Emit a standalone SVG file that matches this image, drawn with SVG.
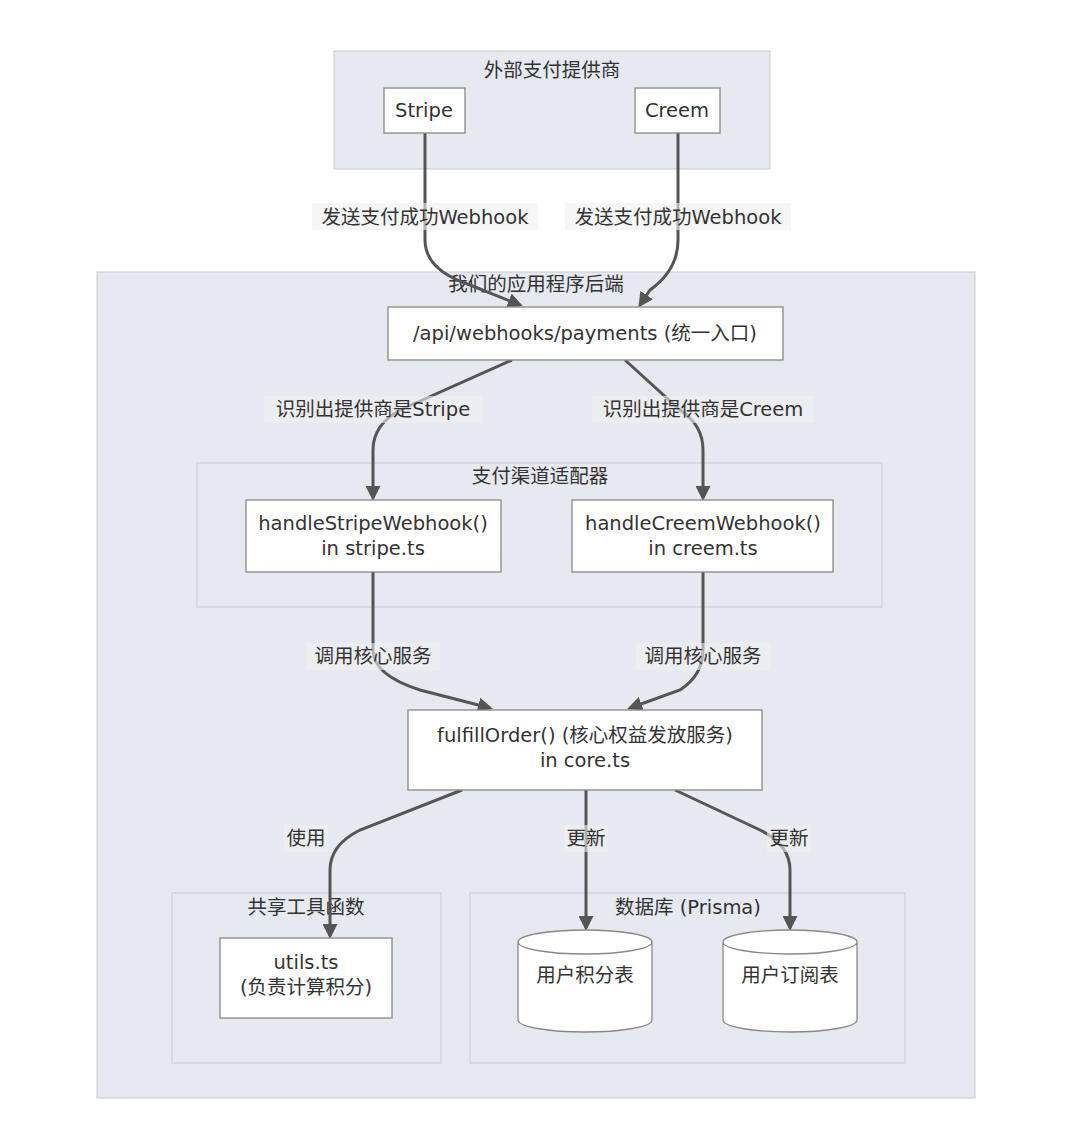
<svg xmlns="http://www.w3.org/2000/svg" width="1080" height="1139" viewBox="0 0 1080 1139">
<defs>
<style>
.cl{fill:#e6e9f0;stroke:#c9ccd3;stroke-width:1}
.nd{fill:#fff;stroke:#888;stroke-width:1.3}
text{font-family:"DejaVu Sans","Noto Sans CJK SC",sans-serif;font-size:19.5px;fill:#333;text-anchor:middle}
.e{fill:none;stroke:#555;stroke-width:3}
.lb{fill:#f0f0f0;opacity:0.6}
</style>
<marker id="a" viewBox="0 0 10 10" refX="8" refY="5" markerWidth="5" markerHeight="5" orient="auto"><path d="M0,0L10,5L0,10z" fill="#555"/></marker>
</defs>
<rect width="1080" height="1139" fill="#fff"/>
<g id="c1"><rect class="cl" x="334" y="51" width="436" height="118"/><text x="552" y="77">外部支付提供商</text></g>
<g id="c2"><rect class="cl" x="97" y="272" width="878" height="826"/><text x="536" y="291">我们的应用程序后端</text></g>
<g id="c3"><rect class="cl" x="197" y="463" width="685" height="144"/><text x="540" y="483">支付渠道适配器</text></g>
<g id="c4"><rect class="cl" x="172" y="893" width="269" height="170"/><text x="306" y="914">共享工具函数</text></g>
<g id="c5"><rect class="cl" x="470" y="893" width="435" height="170"/><text x="688" y="914">数据库 (Prisma)</text></g>
<g id="edges">
<path class="e" marker-end="url(#a)" d="M425,133 V240 Q425,270 470,285 L520,305"/>
<path class="e" marker-end="url(#a)" d="M678,133 V240 Q678,270 650,290 L640,305"/>
<path class="e" marker-end="url(#a)" d="M512,360 L400,410 Q373,425 373,450 V498"/>
<path class="e" marker-end="url(#a)" d="M625,360 L680,410 Q703,425 703,450 V498"/>
<path class="e" marker-end="url(#a)" d="M373,572 V650 Q373,675 420,690 L490,708"/>
<path class="e" marker-end="url(#a)" d="M703,572 V650 Q703,675 680,690 L630,708"/>
<path class="e" marker-end="url(#a)" d="M462,790 L360,830 Q330,845 330,870 V936"/>
<path class="e" marker-end="url(#a)" d="M586,790 V928"/>
<path class="e" marker-end="url(#a)" d="M675,790 L760,830 Q790,845 790,870 V928"/>
<rect class="lb" x="312" y="203" width="226" height="27"/><text x="425" y="224">发送支付成功Webhook</text>
<rect class="lb" x="565" y="203" width="226" height="27"/><text x="678" y="224">发送支付成功Webhook</text>
<rect class="lb" x="264" y="396" width="218" height="27"/><text x="373" y="416">识别出提供商是Stripe</text>
<rect class="lb" x="592" y="396" width="222" height="27"/><text x="703" y="416">识别出提供商是Creem</text>
<rect class="lb" x="306" y="643" width="134" height="27"/><text x="373" y="663">调用核心服务</text>
<rect class="lb" x="636" y="643" width="134" height="27"/><text x="703" y="663">调用核心服务</text>
<rect class="lb" x="284" y="825" width="44" height="27"/><text x="306" y="845">使用</text>
<rect class="lb" x="564" y="825" width="44" height="27"/><text x="586" y="845">更新</text>
<rect class="lb" x="767" y="825" width="44" height="27"/><text x="789" y="845">更新</text>
</g>
<g id="stripe"><rect class="nd" x="384" y="88" width="81" height="45"/><text x="424" y="117">Stripe</text></g>
<g id="creem"><rect class="nd" x="635" y="88" width="85" height="45"/><text x="677" y="117">Creem</text></g>
<g id="api"><rect class="nd" x="388" y="307" width="395" height="53"/><text x="585" y="340">/api/webhooks/payments (统一入口)</text></g>
<g id="hs"><rect class="nd" x="246" y="500" width="255" height="72"/><text x="373" y="530">handleStripeWebhook()</text><text x="373" y="555">in stripe.ts</text></g>
<g id="hc"><rect class="nd" x="572" y="500" width="261" height="72"/><text x="703" y="530">handleCreemWebhook()</text><text x="703" y="555">in creem.ts</text></g>
<g id="fo"><rect class="nd" x="408" y="710" width="354" height="80"/><text x="585" y="742">fulfillOrder() (核心权益发放服务)</text><text x="585" y="767">in core.ts</text></g>
<g id="ut"><rect class="nd" x="220" y="938" width="172" height="80"/><text x="306" y="969">utils.ts</text><text x="306" y="994">(负责计算积分)</text></g>
<g id="db1"><path class="nd" d="M518,942 V1020 A67,12 0 0 0 652,1020 V942 A67,12 0 0 0 518,942 A67,12 0 0 0 652,942"/><text x="585" y="982">用户积分表</text></g>
<g id="db2"><path class="nd" d="M723,942 V1020 A67,12 0 0 0 857,1020 V942 A67,12 0 0 0 723,942 A67,12 0 0 0 857,942"/><text x="790" y="982">用户订阅表</text></g>
</svg>
